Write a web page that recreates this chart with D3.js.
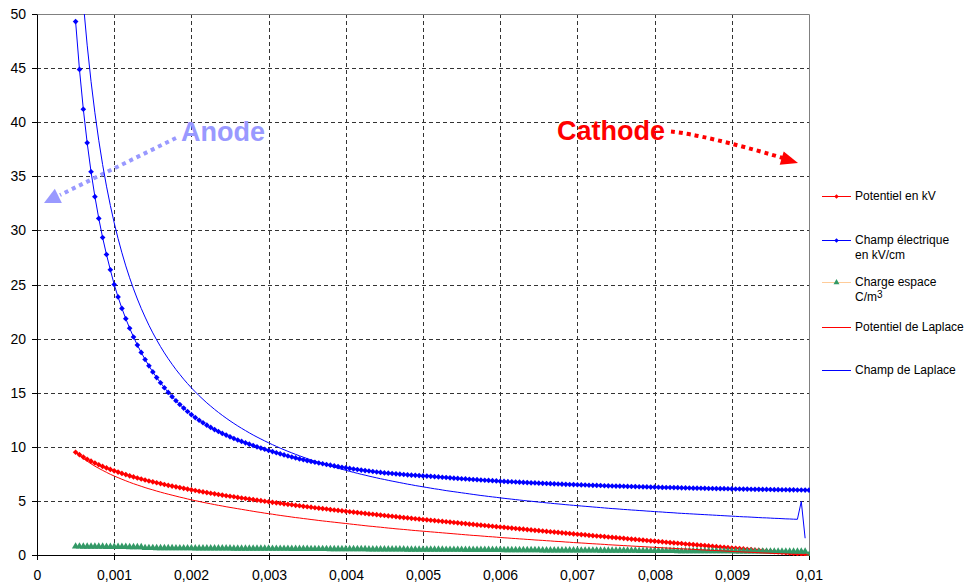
<!DOCTYPE html>
<html>
<head>
<meta charset="utf-8">
<script src="https://cdn.jsdelivr.net/npm/d3@7"></script>
<style>
  body { margin: 0; background: #fff; }
  svg { display: block; }
  text { font-family: "Liberation Sans", Arial, sans-serif; }
</style>
</head>
<body>
<div id="chart"></div>
<script>
// x positions: first point and step between points (metres)
const xStart = 0.0005, xStep = 0.00005;

// Potentiel en kV (red, diamond markers)
const potentiel = [
  9.5, 9.27, 9.05, 8.85, 8.67, 8.5, 8.34, 8.19, 8.05, 7.91,
  7.78, 7.66, 7.54, 7.43, 7.32, 7.22, 7.12, 7.02, 6.93, 6.84,
  6.76, 6.68, 6.6, 6.52, 6.44, 6.37, 6.3, 6.23, 6.16, 6.09,
  6.02, 5.96, 5.89, 5.83, 5.77, 5.71, 5.65, 5.59, 5.54, 5.48,
  5.43, 5.38, 5.32, 5.27, 5.22, 5.17, 5.12, 5.07, 5.02, 4.97,
  4.92, 4.87, 4.82, 4.78, 4.73, 4.68, 4.64, 4.59, 4.55, 4.5,
  4.46, 4.42, 4.37, 4.33, 4.29, 4.25, 4.2, 4.16, 4.12, 4.08,
  4.04, 4.0, 3.96, 3.92, 3.88, 3.84, 3.8, 3.77, 3.73, 3.69,
  3.65, 3.61, 3.58, 3.54, 3.5, 3.46, 3.43, 3.39, 3.35, 3.32,
  3.28, 3.25, 3.21, 3.18, 3.14, 3.11, 3.07, 3.04, 3.0, 2.97,
  2.93, 2.9, 2.86, 2.83, 2.79, 2.76, 2.73, 2.69, 2.66, 2.62,
  2.59, 2.56, 2.52, 2.49, 2.45, 2.42, 2.39, 2.35, 2.32, 2.28,
  2.25, 2.22, 2.18, 2.15, 2.12, 2.09, 2.05, 2.02, 1.99, 1.95,
  1.92, 1.89, 1.86, 1.82, 1.79, 1.76, 1.73, 1.7, 1.66, 1.63,
  1.6, 1.57, 1.54, 1.5, 1.47, 1.44, 1.41, 1.38, 1.34, 1.31,
  1.28, 1.25, 1.22, 1.18, 1.15, 1.12, 1.09, 1.06, 1.02, 0.99,
  0.96, 0.93, 0.9, 0.87, 0.84, 0.81, 0.77, 0.74, 0.71, 0.68,
  0.65, 0.62, 0.59, 0.56, 0.53, 0.5, 0.46, 0.43, 0.4, 0.37,
  0.34, 0.31, 0.28, 0.25, 0.22, 0.19, 0.15, 0.12, 0.09, 0.06,
  0.03
];

// Champ électrique en kV/cm (blue, diamond markers)
const champ = [
  49.3, 44.88, 41.2, 38.09, 35.42, 33.12, 31.11, 29.34, 27.77, 26.36,
  25.0, 23.85, 22.79, 21.84, 20.96, 20.15, 19.4, 18.72, 18.07, 17.48,
  16.92, 16.4, 15.92, 15.46, 15.03, 14.63, 14.26, 13.91, 13.58, 13.26,
  12.97, 12.7, 12.45, 12.22, 12.0, 11.79, 11.59, 11.41, 11.24, 11.08,
  10.92, 10.77, 10.63, 10.5, 10.37, 10.24, 10.12, 10.0, 9.88, 9.77,
  9.66, 9.56, 9.45, 9.35, 9.25, 9.15, 9.06, 8.97, 8.88, 8.8,
  8.72, 8.64, 8.57, 8.5, 8.43, 8.36, 8.3, 8.23, 8.17, 8.11,
  8.06, 8.0, 7.95, 7.9, 7.85, 7.8, 7.76, 7.72, 7.67, 7.63,
  7.59, 7.56, 7.53, 7.5, 7.47, 7.44, 7.41, 7.38, 7.36, 7.34,
  7.31, 7.29, 7.27, 7.24, 7.22, 7.19, 7.16, 7.13, 7.1, 7.08,
  7.05, 7.03, 7.0, 6.98, 6.96, 6.93, 6.91, 6.89, 6.87, 6.85,
  6.82, 6.8, 6.78, 6.77, 6.75, 6.73, 6.71, 6.69, 6.67, 6.66,
  6.64, 6.62, 6.61, 6.59, 6.58, 6.56, 6.55, 6.53, 6.52, 6.51,
  6.49, 6.48, 6.47, 6.45, 6.44, 6.43, 6.42, 6.4, 6.39, 6.38,
  6.37, 6.36, 6.35, 6.34, 6.33, 6.32, 6.31, 6.3, 6.29, 6.28,
  6.27, 6.26, 6.25, 6.24, 6.24, 6.23, 6.22, 6.21, 6.2, 6.19,
  6.18, 6.18, 6.17, 6.16, 6.15, 6.15, 6.14, 6.13, 6.13, 6.12,
  6.11, 6.1, 6.1, 6.09, 6.09, 6.08, 6.07, 6.07, 6.06, 6.06,
  6.05, 6.04, 6.04, 6.03, 6.03, 6.02, 6.02, 6.01, 6.01, 6.0,
  5.99
];

// Charge espace C/m3 (green triangles)
const charge = [
  0.79, 0.79, 0.78, 0.78, 0.78, 0.77, 0.77, 0.77, 0.76, 0.76,
  0.76, 0.75, 0.75, 0.75, 0.74, 0.74, 0.74, 0.73, 0.65, 0.65,
  0.65, 0.64, 0.64, 0.64, 0.64, 0.64, 0.63, 0.63, 0.63, 0.63,
  0.63, 0.62, 0.62, 0.62, 0.62, 0.62, 0.61, 0.61, 0.61, 0.61,
  0.61, 0.6, 0.6, 0.6, 0.6, 0.6, 0.59, 0.59, 0.59, 0.59,
  0.59, 0.58, 0.58, 0.58, 0.58, 0.58, 0.57, 0.57, 0.57, 0.57,
  0.57, 0.56, 0.56, 0.56, 0.56, 0.56, 0.55, 0.55, 0.55, 0.55,
  0.55, 0.54, 0.54, 0.54, 0.54, 0.54, 0.53, 0.53, 0.53, 0.53,
  0.53, 0.52, 0.52, 0.52, 0.52, 0.52, 0.51, 0.51, 0.51, 0.51,
  0.51, 0.5, 0.5, 0.5, 0.5, 0.5, 0.49, 0.49, 0.49, 0.49,
  0.49, 0.48, 0.48, 0.48, 0.48, 0.48, 0.47, 0.47, 0.47, 0.47,
  0.47, 0.46, 0.46, 0.46, 0.46, 0.46, 0.45, 0.45, 0.45, 0.45,
  0.45, 0.44, 0.44, 0.44, 0.44, 0.44, 0.43, 0.43, 0.43, 0.43,
  0.43, 0.42, 0.42, 0.42, 0.42, 0.42, 0.41, 0.41, 0.41, 0.41,
  0.41, 0.4, 0.4, 0.4, 0.4, 0.4, 0.39, 0.39, 0.39, 0.39,
  0.39, 0.38, 0.38, 0.38, 0.38, 0.38, 0.37, 0.37, 0.37, 0.37,
  0.37, 0.36, 0.36, 0.36, 0.36, 0.36, 0.35, 0.35, 0.35, 0.35,
  0.35, 0.34, 0.34, 0.34, 0.34, 0.34, 0.33, 0.33, 0.33, 0.33,
  0.33, 0.32, 0.32, 0.32, 0.32, 0.32, 0.31, 0.31, 0.31, 0.31,
  0
];

// Potentiel de Laplace (thin red line)
const potLaplace = [
  9.5, 9.2, 8.92, 8.67, 8.43, 8.21, 8.01, 7.82, 7.64, 7.46,
  7.3, 7.15, 7.0, 6.86, 6.72, 6.59, 6.47, 6.35, 6.23, 6.12,
  6.02, 5.91, 5.81, 5.71, 5.62, 5.53, 5.44, 5.35, 5.27, 5.18,
  5.1, 5.02, 4.95, 4.87, 4.8, 4.73, 4.66, 4.59, 4.53, 4.46,
  4.4, 4.34, 4.28, 4.22, 4.16, 4.1, 4.04, 3.98, 3.93, 3.87,
  3.82, 3.77, 3.71, 3.66, 3.61, 3.56, 3.51, 3.46, 3.42, 3.37,
  3.33, 3.28, 3.24, 3.19, 3.15, 3.11, 3.07, 3.03, 2.99, 2.95,
  2.91, 2.87, 2.83, 2.79, 2.75, 2.71, 2.67, 2.64, 2.6, 2.57,
  2.53, 2.49, 2.46, 2.42, 2.39, 2.36, 2.33, 2.29, 2.26, 2.23,
  2.2, 2.17, 2.14, 2.11, 2.08, 2.05, 2.02, 1.99, 1.96, 1.93,
  1.9, 1.87, 1.84, 1.81, 1.79, 1.76, 1.73, 1.7, 1.68, 1.65,
  1.62, 1.59, 1.57, 1.54, 1.52, 1.49, 1.47, 1.44, 1.42, 1.39,
  1.37, 1.35, 1.32, 1.3, 1.27, 1.25, 1.23, 1.2, 1.18, 1.15,
  1.13, 1.11, 1.09, 1.06, 1.04, 1.02, 1.0, 0.98, 0.95, 0.93,
  0.91, 0.89, 0.87, 0.85, 0.83, 0.81, 0.79, 0.77, 0.75, 0.73,
  0.71, 0.69, 0.67, 0.65, 0.63, 0.61, 0.59, 0.57, 0.56, 0.54,
  0.52, 0.5, 0.48, 0.46, 0.44, 0.42, 0.41, 0.39, 0.37, 0.35,
  0.33, 0.31, 0.3, 0.28, 0.26, 0.25, 0.23, 0.21, 0.19, 0.18,
  0.16, 0.14, 0.13, 0.11, 0.1, 0.08, 0.06, 0.05, 0.03, 0.02,
  0
];

// Champ de Laplace (thin blue line)
const champLaplace = [
  61.2, 55.65, 51.03, 47.12, 43.77, 40.87, 38.33, 36.08, 34.09, 32.31,
  30.7, 29.25, 27.93, 26.72, 25.62, 24.6, 23.66, 22.79, 21.99, 21.23,
  20.53, 19.88, 19.26, 18.68, 18.14, 17.63, 17.14, 16.69, 16.25, 15.84,
  15.45, 15.08, 14.72, 14.39, 14.06, 13.76, 13.46, 13.18, 12.91, 12.65,
  12.4, 12.16, 11.93, 11.71, 11.5, 11.29, 11.09, 10.9, 10.72, 10.54,
  10.37, 10.2, 10.04, 9.88, 9.73, 9.58, 9.44, 9.3, 9.17, 9.04,
  8.91, 8.79, 8.67, 8.56, 8.44, 8.33, 8.23, 8.12, 8.02, 7.92,
  7.83, 7.73, 7.64, 7.55, 7.46, 7.38, 7.29, 7.21, 7.13, 7.05,
  6.98, 6.9, 6.83, 6.76, 6.69, 6.62, 6.55, 6.49, 6.42, 6.36,
  6.3, 6.24, 6.18, 6.12, 6.07, 6.01, 5.95, 5.9, 5.85, 5.8,
  5.75, 5.7, 5.65, 5.6, 5.55, 5.5, 5.46, 5.41, 5.37, 5.33,
  5.28, 5.24, 5.2, 5.16, 5.12, 5.08, 5.04, 5.0, 4.97, 4.93,
  4.89, 4.86, 4.82, 4.79, 4.75, 4.72, 4.69, 4.65, 4.62, 4.59,
  4.56, 4.53, 4.5, 4.47, 4.44, 4.41, 4.38, 4.35, 4.32, 4.29,
  4.27, 4.24, 4.21, 4.19, 4.16, 4.14, 4.11, 4.09, 4.06, 4.04,
  4.01, 3.99, 3.97, 3.94, 3.92, 3.9, 3.87, 3.85, 3.83, 3.81,
  3.79, 3.77, 3.75, 3.73, 3.71, 3.69, 3.67, 3.65, 3.63, 3.61,
  3.59, 3.57, 3.55, 3.53, 3.52, 3.5, 3.48, 3.46, 3.44, 3.43,
  3.41, 3.39, 3.38, 3.36, 3.34, 3.33, 3.31, 3.3, 4.95, 1.55,
  null
];

const xTicks = [0, 0.001, 0.002, 0.003, 0.004, 0.005, 0.006, 0.007, 0.008, 0.009, 0.01];
const xTickLabels = ["0", "0,001", "0,002", "0,003", "0,004", "0,005", "0,006", "0,007", "0,008", "0,009", "0,01"];
const yTicks = [0, 5, 10, 15, 20, 25, 30, 35, 40, 45, 50];

const width = 971, height = 586;
const plot = {left: 37, right: 809, top: 14, bottom: 555};

const svg = d3.select("#chart")
  .append("svg")
  .attr("width", width)
  .attr("height", height);

svg.append("rect").attr("width", width).attr("height", height).attr("fill", "#fff");

const x = d3.scaleLinear().domain([0, 0.01]).range([plot.left, plot.right]);
const y = d3.scaleLinear().domain([0, 50]).range([plot.bottom, plot.top]);
// rounded copies for crisp grid / axes
const xr = x.copy().interpolate(d3.interpolateRound);
const yr = y.copy().interpolate(d3.interpolateRound);

// Gridlines (dashed)
const grid = svg.append("g")
  .attr("stroke", "#333")
  .attr("stroke-width", 1)
  .attr("stroke-dasharray", "4,3");

grid.selectAll(".vg")
  .data(xTicks.slice(1, -1))
  .join("line")
  .attr("x1", d => xr(d) + 0.5).attr("x2", d => xr(d) + 0.5)
  .attr("y1", yr(50)).attr("y2", yr(0));

grid.selectAll(".hg")
  .data(yTicks.slice(1, -1))
  .join("line")
  .attr("x1", xr(0)).attr("x2", xr(0.01))
  .attr("y1", d => yr(d) + 0.5).attr("y2", d => yr(d) + 0.5);

// Plot frame: top and right in grey
svg.append("path")
  .attr("d", `M${xr(0)},${yr(50) + 0.5}H${xr(0.01) + 0.5}V${yr(0) + 1}`)
  .attr("fill", "none")
  .attr("stroke", "#808080");

// Axes
svg.append("g")
  .attr("transform", `translate(0,${yr(0)})`)
  .call(d3.axisBottom(xr)
    .tickValues(xTicks)
    .tickFormat((d, i) => xTickLabels[i])
    .tickSize(5)
    .tickSizeOuter(0)
    .tickPadding(10));

svg.append("g")
  .attr("transform", `translate(${xr(0)},0)`)
  .call(d3.axisLeft(yr)
    .tickValues(yTicks)
    .tickSize(5)
    .tickSizeOuter(0)
    .tickPadding(6));

svg.selectAll(".tick text")
  .attr("font-size", 14)
  .attr("font-family", "'Liberation Sans', Arial, sans-serif")
  .attr("fill", "#000");
svg.selectAll(".domain, .tick line").attr("stroke", "#000");

// Annotations
function arrowHead(g, tip, from, len, half, color) {
  const dx = tip[0] - from[0], dy = tip[1] - from[1];
  const l = Math.hypot(dx, dy), ux = dx / l, uy = dy / l;
  const bx = tip[0] - ux * len, by = tip[1] - uy * len;
  g.append("path")
    .attr("d", `M${tip[0]},${tip[1]}L${bx - uy * half},${by + ux * half}L${bx + uy * half},${by - ux * half}Z`)
    .attr("fill", color);
}

const notes = svg.append("g");
notes.append("path")
  .attr("d", "M176,138L60,195")
  .attr("stroke", "#9999FF").attr("stroke-width", 4)
  .attr("stroke-dasharray", "4,4").attr("fill", "none");
arrowHead(notes, [44, 203], [176, 138], 16, 8, "#9999FF");
notes.append("text")
  .attr("x", 181).attr("y", 141)
  .attr("font-size", 27).attr("font-weight", "bold")
  .attr("fill", "#9999FF")
  .text("Anode");

notes.append("path")
  .attr("d", "M671,131.5Q705,135 783,158")
  .attr("stroke", "#FF0000").attr("stroke-width", 4)
  .attr("stroke-dasharray", "4,4").attr("fill", "none");
arrowHead(notes, [798, 163], [778, 157], 17, 7, "#FF0000");
notes.append("text")
  .attr("x", 557).attr("y", 140)
  .attr("font-size", 27).attr("font-weight", "bold")
  .attr("fill", "#FF0000")
  .text("Cathode");

// Series
svg.append("clipPath").attr("id", "clip")
  .append("rect")
  .attr("x", plot.left).attr("y", plot.top)
  .attr("width", plot.right - plot.left + 1)
  .attr("height", plot.bottom - plot.top + 1);

const series = svg.append("g").attr("clip-path", "url(#clip)");
const xAt = i => x(xStart + i * xStep);
const line = d3.line()
  .defined(d => d != null)
  .x((d, i) => xAt(i))
  .y(d => y(d));

const diamond = d3.symbol(d3.symbolSquare, 16)();
const triangle = d3.symbol(d3.symbolTriangle, 24)();

function drawSeries(values, color, marker, markerColor) {
  series.append("path")
    .datum(values)
    .attr("d", line)
    .attr("fill", "none")
    .attr("stroke", color)
    .attr("stroke-width", 1);
  if (!marker) return;
  series.append("g")
    .selectAll("path")
    .data(values)
    .join("path")
    .attr("transform", (d, i) => `translate(${xAt(i)},${y(d)})` + (marker === diamond ? " rotate(45)" : ""))
    .attr("d", marker)
    .attr("fill", markerColor);
}

drawSeries(potentiel, "#FF0000", diamond, "#FF0000");
drawSeries(champ, "#0000FF", diamond, "#0000FF");
drawSeries(charge, "#FFCC99", triangle, "#339966");
drawSeries(potLaplace, "#FF0000", null);
drawSeries(champLaplace, "#0000FF", null);

// Legend
const legendItems = [
  {lines: ["Potentiel en kV"], color: "#FF0000", marker: diamond, markerColor: "#FF0000", y: 196},
  {lines: ["Champ électrique", "en kV/cm"], color: "#0000FF", marker: diamond, markerColor: "#0000FF", y: 240},
  {lines: ["Charge espace", "C/m"], sup: "3", color: "#FFCC99", marker: triangle, markerColor: "#339966", y: 282},
  {lines: ["Potentiel de Laplace"], color: "#FF0000", marker: null, y: 327},
  {lines: ["Champ de Laplace"], color: "#0000FF", marker: null, y: 370}
];

const legendMarkerScale = 0.8;
const legend = svg.append("g");
legendItems.forEach(item => {
  const g = legend.append("g");
  g.append("line")
    .attr("x1", 822).attr("x2", 851)
    .attr("y1", item.y + 0.5).attr("y2", item.y + 0.5)
    .attr("stroke", item.color);
  if (item.marker) {
    g.append("path")
      .attr("transform", `translate(836.5,${item.y + 0.5}) scale(${legendMarkerScale})` + (item.marker === diamond ? " rotate(45)" : ""))
      .attr("d", item.marker)
      .attr("fill", item.markerColor);
  }
  item.lines.forEach((t, i) => {
    const txt = g.append("text")
      .attr("x", 855)
      .attr("y", item.y + 4 + i * 15)
      .attr("font-size", 12)
      .attr("fill", "#000")
      .text(t);
    if (item.sup && i === item.lines.length - 1) {
      txt.append("tspan")
        .attr("dy", -3)
        .attr("font-size", 10)
        .text(item.sup);
    }
  });
});
</script>
</body>
</html>
